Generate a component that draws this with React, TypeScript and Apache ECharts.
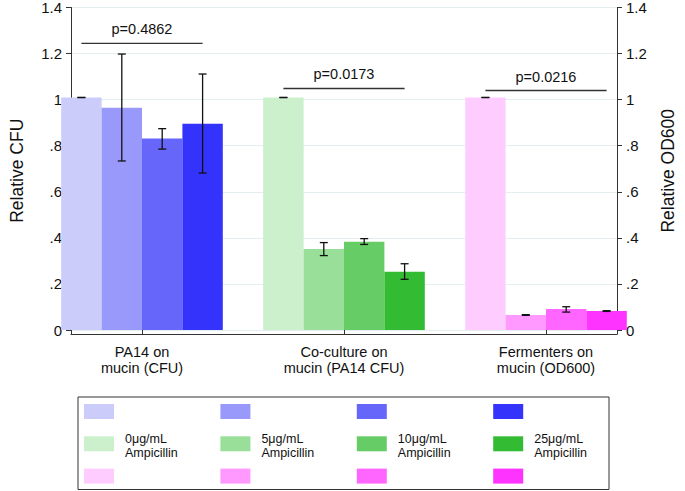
import React, { useEffect, useRef } from "react";
import * as echarts from "echarts";

// ---------- data ----------
const categories = [
  "PA14 on\nmucin (CFU)",
  "Co-culture on\nmucin (PA14 CFU)",
  "Fermenters on\nmucin (OD600)",
];
const doseLabels = [
  "0\u03bcg/mL\nAmpicillin",
  "5\u03bcg/mL\nAmpicillin",
  "10\u03bcg/mL\nAmpicillin",
  "25\u03bcg/mL\nAmpicillin",
];
const values0 = [1.0, 1.0, 1.0];
const values5 = [0.956, 0.348, 0.064];
const values10 = [0.824, 0.38, 0.09];
const values25 = [0.887, 0.251, 0.082];

const errLow0 = [1.0, 1.0, 1.0];
const errHigh0 = [1.0, 1.0, 1.0];
const errLow5 = [0.727, 0.32, 0.063];
const errHigh5 = [1.187, 0.376, 0.066];
const errLow10 = [0.778, 0.368, 0.077];
const errHigh10 = [0.866, 0.393, 0.1];
const errLow25 = [0.675, 0.218, 0.08];
const errHigh25 = [1.101, 0.285, 0.083];

const pLabels = ["p=0.4862", "p=0.0173", "p=0.0216"];
const bracketY = [1.233, 1.039, 1.03];

const yTicks = [0, 0.2, 0.4, 0.6, 0.8, 1, 1.2, 1.4];

const blueShades = ["#ccccfb", "#9999fb", "#6666fa", "#3333fc"];
const greenShades = ["#ccefcc", "#99df99", "#66cd66", "#33bb33"];
const pinkShades = ["#ffccff", "#ff99ff", "#ff66ff", "#ff33ff"];

// ---------- derived ----------
const groupPalettes = [blueShades, greenShades, pinkShades];
const seriesValues = [values0, values5, values10, values25];
const seriesLow = [errLow0, errLow5, errLow10, errLow25];
const seriesHigh = [errHigh0, errHigh5, errHigh10, errHigh25];

const FONT = "'Liberation Sans', Arial, Helvetica, sans-serif";
const Y_MIN = -0.0172;
const Y_MAX = 1.4;
const BAR_FRACTION = 0.8; // 1 - barCategoryGap

const fmtY = (v: number) => {
  if (v === 0) return "0";
  const s = String(Math.round(v * 10) / 10);
  return s.startsWith("0.") ? s.slice(1) : s;
};

export default function App() {
  const ref = useRef<HTMLDivElement>(null);

  useEffect(() => {
    if (!ref.current) return;
    const chart = echarts.init(ref.current, null, { renderer: "svg" });

    const barSeries = seriesValues.map((vals, j) => ({
      type: "bar",
      name: doseLabels[j],
      xAxisIndex: 1,
      yAxisIndex: 2,
      barGap: "0%",
      barCategoryGap: "20%",
      data: vals.map((v, i) => ({
        value: v,
        itemStyle: { color: groupPalettes[i][j] },
      })),
    }));

    const errData: number[][] = [];
    seriesValues.forEach((vals, j) => {
      vals.forEach((_, i) => {
        errData.push([i, seriesLow[j][i], seriesHigh[j][i], j]);
      });
    });

    const errSeries = {
      type: "custom",
      xAxisIndex: 1,
      yAxisIndex: 2,
      z: 10,
      encode: { x: 0, y: [1, 2] },
      data: errData,
      renderItem: (params: any, api: any) => {
        const cat = api.value(0);
        const lo = api.coord([cat, api.value(1)]);
        const hi = api.coord([cat, api.value(2)]);
        const j = api.value(3);
        const band = api.size([1, 0])[0];
        const bw = (band * BAR_FRACTION) / 4;
        const x = lo[0] + (j - 1.5) * bw;
        const cap = 4;
        const st = { stroke: "#111", lineWidth: 1.3 };
        return {
          type: "group",
          children: [
            { type: "line", shape: { x1: x, y1: hi[1], x2: x, y2: lo[1] }, style: st },
            { type: "line", shape: { x1: x - cap, y1: hi[1], x2: x + cap, y2: hi[1] }, style: st },
            { type: "line", shape: { x1: x - cap, y1: lo[1], x2: x + cap, y2: lo[1] }, style: st },
          ],
        };
      },
    };

    const bracketSeries = {
      type: "custom",
      xAxisIndex: 1,
      yAxisIndex: 2,
      z: 10,
      encode: { x: 0, y: 1 },
      data: bracketY.map((y, i) => [i, y]),
      renderItem: (params: any, api: any) => {
        const c = api.coord([api.value(0), api.value(1)]);
        const band = api.size([1, 0])[0];
        const bw = (band * BAR_FRACTION) / 4;
        return {
          type: "group",
          children: [
            {
              type: "line",
              shape: { x1: c[0] - 1.5 * bw, y1: c[1], x2: c[0] + 1.5 * bw, y2: c[1] },
              style: { stroke: "#333", lineWidth: 1.4 },
            },
            {
              type: "text",
              style: {
                text: pLabels[params.dataIndex],
                x: c[0],
                y: c[1] - 14,
                align: "center",
                verticalAlign: "middle",
                fontSize: 14.5,
                fontFamily: FONT,
                fill: "#111",
              },
            },
          ],
        };
      },
    };

    // legend graphic
    const legendLeft = 78;
    const legendTop = 397;
    const colStep = 136.4;
    const rowStep = 32.3;
    const legendEls: any[] = [
      {
        type: "rect",
        shape: { x: legendLeft, y: legendTop, width: 531, height: 92.5 },
        style: { fill: "#fff", stroke: "#333", lineWidth: 1 },
      },
    ];
    groupPalettes.forEach((pal, r) => {
      pal.forEach((col, c) => {
        legendEls.push({
          type: "rect",
          shape: { x: 84 + c * colStep, y: 404 + r * rowStep, width: 30, height: 15 },
          style: { fill: col },
        });
      });
    });
    doseLabels.forEach((lab, c) => {
      lab.split("\n").forEach((line, k) => {
        legendEls.push({
          type: "text",
          x: 125 + c * colStep,
          y: 439 + k * 13.5,
          style: {
            text: line,
            fontSize: 12.5,
            lineHeight: 12,
            fontFamily: FONT,
            fill: "#111",
            verticalAlign: "middle",
          },
        });
      });
    });

    const yAxisCommon = {
      type: "value",
      gridIndex: 0,
      min: Y_MIN,
      max: Y_MAX,
      axisLine: { show: true, lineStyle: { color: "#333", width: 1 } },
      axisTick: { show: true, length: 5, customValues: yTicks, lineStyle: { color: "#333" } },
      axisLabel: {
        customValues: yTicks,
        formatter: (v: number) => fmtY(v),
        fontSize: 15,
        fontFamily: FONT,
        color: "#111",
        margin: 9,
      },
      nameLocation: "middle",
      nameRotate: 90,
      nameTextStyle: { fontSize: 17.5, fontFamily: FONT, color: "#111" },
    };

    chart.setOption({
      animation: false,
      backgroundColor: "#fff",
      textStyle: { fontFamily: FONT },
      grid: [
        { left: 56, right: 52, top: 4.5, bottom: 157 },
        { left: 41, right: 38, top: 4.5, bottom: 157 },
      ],
      xAxis: [
        {
          type: "value",
          gridIndex: 0,
          min: 0,
          max: 1,
          axisLine: { show: true, onZero: false, lineStyle: { color: "#333", width: 1 } },
          axisTick: { show: false },
          axisLabel: { show: false },
          splitLine: { show: false },
        },
        {
          type: "category",
          gridIndex: 1,
          data: categories,
          axisLine: { show: false },
          axisTick: { show: true, alignWithLabel: true, length: 5, lineStyle: { color: "#333" } },
          axisLabel: {
            fontSize: 14.5,
            lineHeight: 16,
            fontFamily: FONT,
            color: "#111",
            margin: 10,
            interval: 0,
          },
        },
      ],
      yAxis: [
        {
          ...yAxisCommon,
          position: "left",
          name: "Relative CFU",
          nameGap: 45,
          splitLine: { show: true, lineStyle: { color: "#e4edf0", width: 1 } },
        },
        {
          ...yAxisCommon,
          position: "right",
          name: "Relative OD600",
          nameGap: 42,
          splitLine: { show: false },
        },
        {
          type: "value",
          gridIndex: 1,
          min: Y_MIN,
          max: Y_MAX,
          show: false,
          splitLine: { show: false },
        },
      ],
      series: [...barSeries, errSeries, bracketSeries],
      graphic: legendEls,
    });

    return () => chart.dispose();
  }, []);

  return (
    <div
      ref={ref}
      style={{ position: "absolute", left: 0, top: 0, width: 685, height: 491 }}
    />
  );
}
